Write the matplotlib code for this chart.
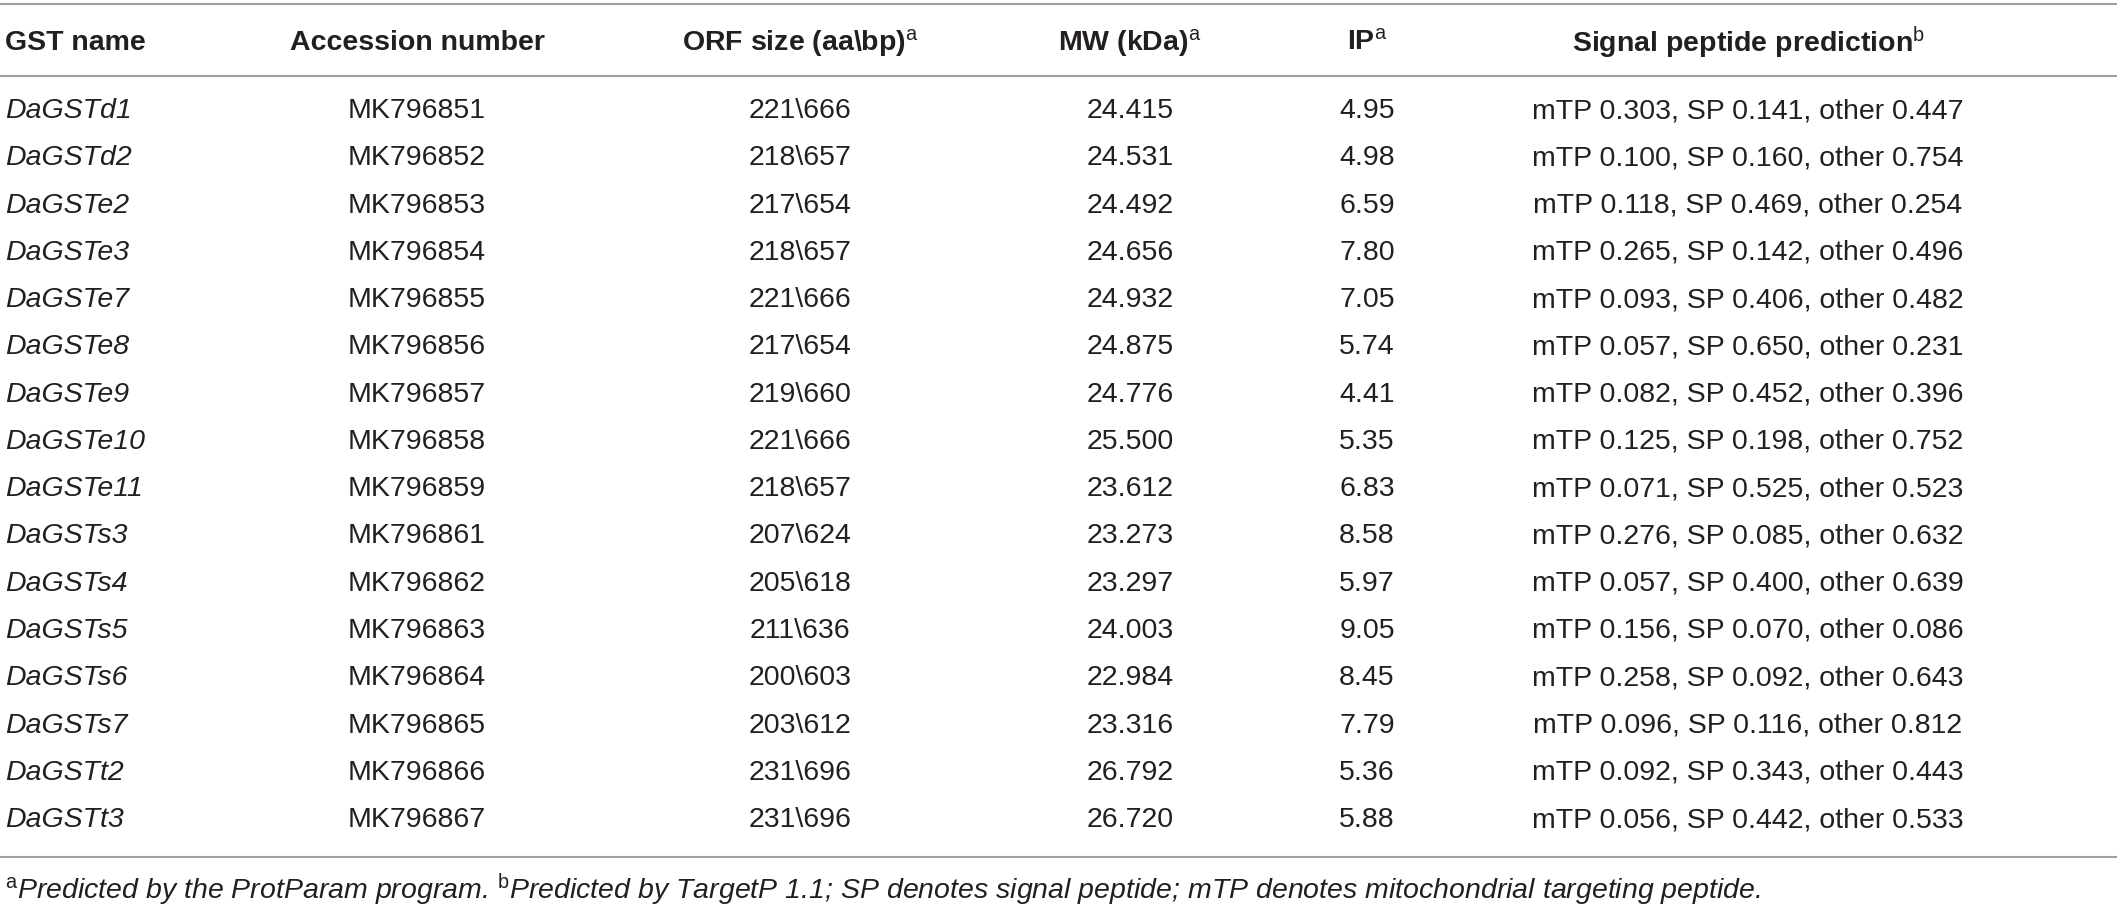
import matplotlib
matplotlib.use("Agg")
import matplotlib.pyplot as plt

# table content
headers = ["GST name", "Accession number", r"ORF size (aa\bp)$^{\mathrm{a}}$",
           r"MW (kDa)$^{\mathrm{a}}$", r"IP$^{\mathrm{a}}$",
           r"Signal peptide prediction$^{\mathrm{b}}$"]

gst_names = ["DaGSTd1", "DaGSTd2", "DaGSTe2", "DaGSTe3", "DaGSTe7", "DaGSTe8",
             "DaGSTe9", "DaGSTe10", "DaGSTe11", "DaGSTs3", "DaGSTs4", "DaGSTs5",
             "DaGSTs6", "DaGSTs7", "DaGSTt2", "DaGSTt3"]
accession = ["MK796851", "MK796852", "MK796853", "MK796854", "MK796855", "MK796856",
             "MK796857", "MK796858", "MK796859", "MK796861", "MK796862", "MK796863",
             "MK796864", "MK796865", "MK796866", "MK796867"]
orf_aa = [221, 218, 217, 218, 221, 217, 219, 221, 218, 207, 205, 211, 200, 203, 231, 231]
orf_bp = [666, 657, 654, 657, 666, 654, 660, 666, 657, 624, 618, 636, 603, 612, 696, 696]
mw_kda = ["24.415", "24.531", "24.492", "24.656", "24.932", "24.875", "24.776", "25.500",
          "23.612", "23.273", "23.297", "24.003", "22.984", "23.316", "26.792", "26.720"]
ip = ["4.95", "4.98", "6.59", "7.80", "7.05", "5.74", "4.41", "5.35",
      "6.83", "8.58", "5.97", "9.05", "8.45", "7.79", "5.36", "5.88"]
mtp = ["0.303", "0.100", "0.118", "0.265", "0.093", "0.057", "0.082", "0.125",
       "0.071", "0.276", "0.057", "0.156", "0.258", "0.096", "0.092", "0.056"]
sp = ["0.141", "0.160", "0.469", "0.142", "0.406", "0.650", "0.452", "0.198",
      "0.525", "0.085", "0.400", "0.070", "0.092", "0.116", "0.343", "0.442"]
other = ["0.447", "0.754", "0.254", "0.496", "0.482", "0.231", "0.396", "0.752",
         "0.523", "0.632", "0.639", "0.086", "0.643", "0.812", "0.443", "0.533"]

footnote = (r"$^{\mathrm{a}}$Predicted by the ProtParam program. "
            r"$^{\mathrm{b}}$Predicted by TargetP 1.1; SP denotes signal peptide; "
            r"mTP denotes mitochondrial targeting peptide.")

# layout (pixels, y from top)
W, H = 2117, 912
COL_X = [5, 417, 800, 1130, 1367, 1748]
HEADER_Y = 43
ROW0_Y = 111
ROW_DY = 47.27
LINES_Y = [5, 77, 858]
FOOT_Y = 890
FS = 20.5
TXT = "#231f20"
LINE_C = "#a0a0a0"

plt.rcParams["font.family"] = ["Liberation Sans", "DejaVu Sans"]
plt.rcParams["mathtext.fontset"] = "custom"
plt.rcParams["mathtext.rm"] = "Liberation Sans"
plt.rcParams["mathtext.it"] = "Liberation Sans:italic"
plt.rcParams["mathtext.bf"] = "Liberation Sans:bold"

fig = plt.figure(figsize=(W / 100, H / 100), dpi=100)
ax = fig.add_axes([0, 0, 1, 1])
ax.set_xlim(0, W)
ax.set_ylim(H, 0)
ax.axis("off")

for y in LINES_Y:
    ax.plot([0, W], [y, y], color=LINE_C, lw=1.5, solid_capstyle="butt")

for i, h in enumerate(headers):
    ax.text(COL_X[i], HEADER_Y, h, ha="left" if i == 0 else "center", va="center",
            fontsize=FS, fontweight="bold", color=TXT)

for r in range(len(gst_names)):
    y = ROW0_Y + r * ROW_DY
    cells = [gst_names[r], accession[r], f"{orf_aa[r]}\\{orf_bp[r]}", mw_kda[r], ip[r],
             f"mTP {mtp[r]}, SP {sp[r]}, other {other[r]}"]
    for i, c in enumerate(cells):
        ax.text(COL_X[i], y, c, ha="left" if i == 0 else "center", va="center",
                fontsize=FS, color=TXT, fontstyle="italic" if i == 0 else "normal")

ax.text(5, FOOT_Y, footnote, ha="left", va="center", fontsize=FS, color=TXT,
        fontstyle="italic")

fig.savefig("out.png", dpi=100, facecolor="white")
